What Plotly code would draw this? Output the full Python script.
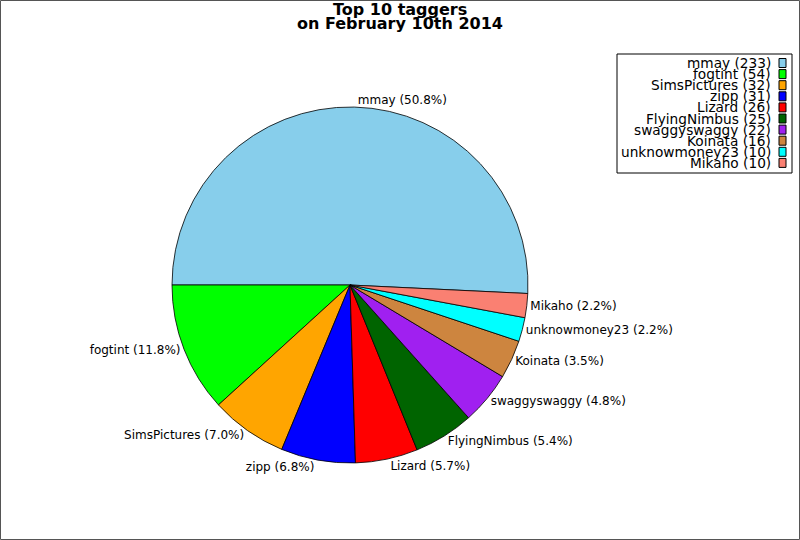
"""
top_taggers_pie.py
Pie chart of the top 10 taggers on February 10th 2014.
"""

import plotly.graph_objects as go

# =====================================================
# Data
# =====================================================
taggers = ["mmay", "fogtint", "SimsPictures", "zipp", "Lizard",
           "FlyingNimbus", "swaggyswaggy", "Koinata", "unknowmoney23", "Mikaho"]
tag_counts = [233, 54, 32, 31, 26, 25, 22, 16, 10, 10]
slice_colors = ["#87CEEB", "#00FF00", "#FFA500", "#0000FF", "#FF0000",
                "#006400", "#A020F0", "#CD853F", "#00FFFF", "#FA8072"]
title_lines = ["Top 10 taggers", "on February 10th 2014"]

total = sum(tag_counts)
labels_out = [f"{t} ({c / total * 100:.1f}%)" for t, c in zip(taggers, tag_counts)]

FONT = "DejaVu Sans"
W, H = 800, 540

# =====================================================
# Pie
# =====================================================
fig = go.Figure(go.Pie(
    labels=taggers,
    values=tag_counts,
    text=labels_out,
    textinfo="text",
    textposition="outside",
    sort=False,
    direction="counterclockwise",
    rotation=-90,
    marker=dict(colors=slice_colors, line=dict(color="black", width=0.8)),
    textfont=dict(family=FONT, size=12, color="black"),
    showlegend=False,
    hoverinfo="label+value+percent",
    domain=dict(x=[172 / W, 528 / W], y=[1 - 463 / H, 1 - 107 / H]),
))

# =====================================================
# Title (two tight lines, like matplotlib)
# =====================================================
for i, line in enumerate(title_lines):
    fig.add_annotation(x=0.5, y=1 - (10 + 13.5 * i) / H, xref="paper", yref="paper",
                       text=f"<b>{line}</b>", showarrow=False,
                       xanchor="center", yanchor="middle",
                       font=dict(family=FONT, size=16, color="black"))

# =====================================================
# Hand-built legend (text right-aligned, swatch on the right)
# =====================================================
leg_top = 1 - 63 / H
leg_step = 11.1 / H
for i, (t, c, col) in enumerate(zip(taggers, tag_counts, slice_colors)):
    yc = leg_top - i * leg_step
    fig.add_annotation(x=773 / W, y=yc, xref="paper", yref="paper",
                       text=f"{t} ({c})", showarrow=False,
                       xanchor="right", yanchor="middle",
                       font=dict(family=FONT, size=13.7, color="black"))
    fig.add_shape(type="rect", xref="paper", yref="paper",
                  x0=779 / W, x1=786 / W,
                  y0=yc - 4.5 / H, y1=yc + 4.5 / H,
                  fillcolor=col, line=dict(color="black", width=1))

# legend frame
fig.add_shape(type="rect", xref="paper", yref="paper",
              x0=617 / W, x1=792 / W, y0=1 - 173 / H, y1=1 - 54 / H,
              line=dict(color="black", width=1), fillcolor="rgba(0,0,0,0)")

# figure frame
fig.add_shape(type="rect", xref="paper", yref="paper",
              x0=0.5 / W, x1=1 - 0.5 / W, y0=0.5 / H, y1=1 - 0.5 / H,
              line=dict(color="#555555", width=1))

fig.update_layout(
    width=W, height=H,
    margin=dict(l=0, r=0, t=0, b=0, autoexpand=False),
    paper_bgcolor="white",
)

fig.write_html("out.html",
               config={"displayModeBar": False},
               post_script="document.body.style.margin='0';")
